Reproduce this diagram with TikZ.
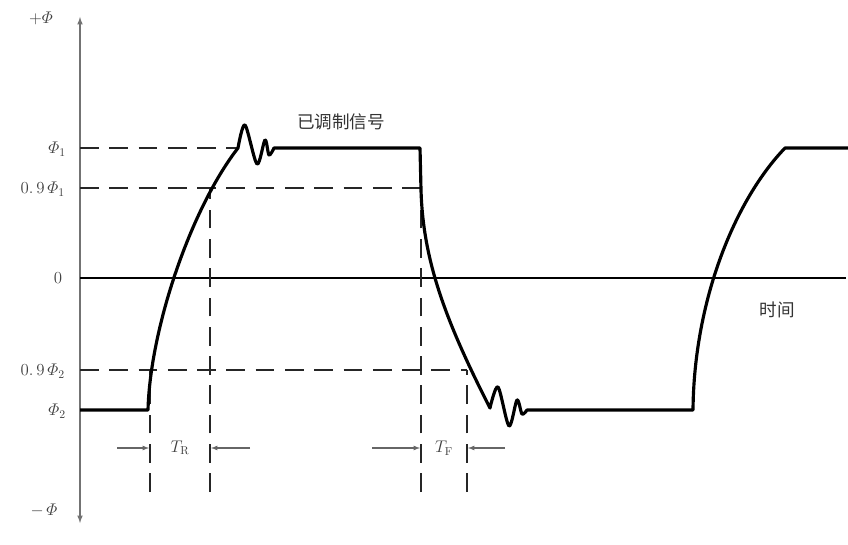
\documentclass[tikz,border=0pt]{standalone}
\usepackage{amsmath}
\usepackage{fontspec}
\newfontfamily\cjk{Noto Sans CJK SC}
\usetikzlibrary{arrows, positioning, calc}

\begin{document}
\begin{tikzpicture}[x=0.03cm, y=-0.03cm,
  wave/.style={line width=2.7pt, line join=round},
  guide/.style={line width=2.2pt, black!85, dash pattern=on 16pt off 9pt},
  axis/.style={line width=1.2pt, black!55},
  lbl/.style={font=\fontsize{14}{16}\selectfont, text=black!75},
  cn/.style={font=\cjk\fontsize{15}{17}\selectfont, text=black!80},
  dim/.style={line width=0.9pt, black!60, -latex}]

  \useasboundingbox (0,0) rectangle (848,545);

  % Axis ends
  \coordinate (Top) at (80,17);
  \coordinate (Bot) at (80,523);

  % Crossing points of the edges
  \coordinate (R0) at (150,370);
  \coordinate (R1) at (210,188);
  \coordinate (F0) at (421,188);
  \coordinate (F1) at (467,370);

  % Dimension line ends
  \coordinate (RL) at (117,448);
  \coordinate (RR) at (250,448);
  \coordinate (FL) at (372,448);
  \coordinate (FR) at (505,448);

  % Vertical axis
  \draw[axis, latex-latex] (Top) -- (Bot);

  % Zero line
  \draw[line width=2.2pt] (80,278) -- (846,278);

  % Dashed levels
  \draw[guide] (80,148) -- (238,148);
  \draw[guide] (80,188) -- (F0);
  \draw[guide] (80,370) -- (F1);

  % Dashed verticals (from the bottom up)
  \draw[guide] (150,492) -- (R0);
  \draw[guide] (210,492) -- (R1);
  \draw[guide] (421,492) -- (F0);
  \draw[guide] (467,492) -- (F1);

  % Signal
  \draw[wave] (80,410) -- (148,410) .. controls (150,330) and (190,210) .. (238,148)
    -- plot[smooth, tension=0.5] coordinates {(238,148) (245,125) (257,164) (265,140) (269,155) (274,148)}
    -- (420,148) -- (421,190) .. controls (423,260) and (445,320) .. (490,408)
    -- plot[smooth, tension=0.5] coordinates {(490,408) (498,387) (509,426) (517,400) (522,414) (527,410)}
    -- (693,410) .. controls (694,300) and (735,200) .. (785,148) -- (848,148);

  % Rise and fall times
  \draw[dim] (RL) -- ($(R0|-RL)+(-1,0)$);
  \draw[dim] (RR) -- ($(R1|-RR)+(1,0)$);
  \draw[dim] (FL) -- ($(F0|-FL)+(-1,0)$);
  \draw[dim] (FR) -- ($(F1|-FR)+(1,0)$);
  \node[lbl] (TR) at (180,448) {$T_{\mathrm{R}}$};
  \node[lbl] (TF) at (444,448) {$T_{\mathrm{F}}$};

  % Level labels
  \node[lbl] (plus) at (41,18) {$+\varPhi$};
  \node[lbl] (phi1) at (57,149) {$\varPhi_1$};
  \node[lbl, anchor=east] (nine1) at (69,189) {$0.\,9\,\varPhi_1$};
  \node[lbl] (zero) at (58,278) {$0$};
  \node[lbl, anchor=east] (nine2) at (69,371) {$0.\,9\,\varPhi_2$};
  \node[lbl] (phi2) at (57,411) {$\varPhi_2$};
  \node[lbl] (minus) at (44,510) {$-\,\varPhi$};

  % Texts
  \node[cn] (sig) at (341,122) {已调制信号};
  \node[cn] (time) at (777,310) {时间};
\end{tikzpicture}
\end{document}
